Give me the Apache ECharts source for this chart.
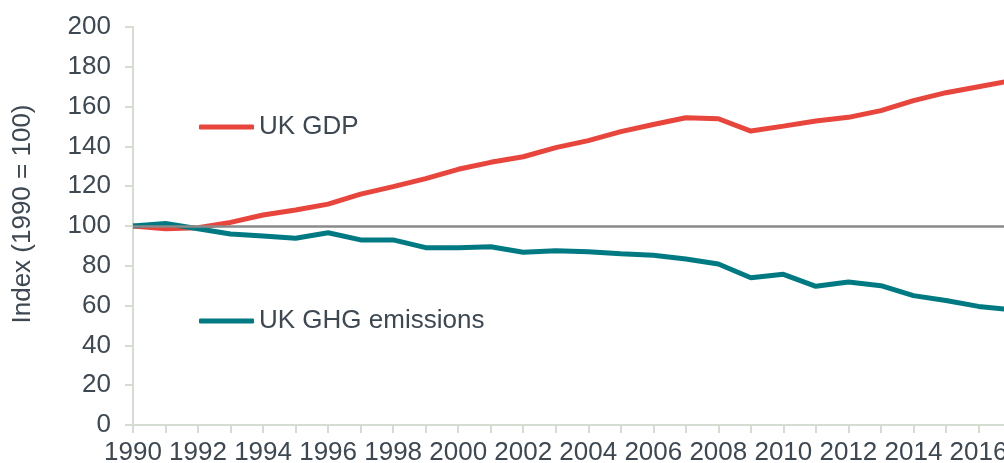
<!DOCTYPE html>
<html>
<head>
<meta charset="utf-8">
<title>UK GDP and GHG emissions</title>
<script src="https://cdn.jsdelivr.net/npm/echarts@6/dist/echarts.min.js"></script>
<style>
  html, body { margin: 0; padding: 0; background: #ffffff; }
  #chart { width: 1004px; height: 463px; }
</style>
</head>
<body>
<div id="chart"></div>
<script>
// Index values, 1990 = 100
const years = ['1990','1991','1992','1993','1994','1995','1996','1997','1998','1999',
               '2000','2001','2002','2003','2004','2005','2006','2007','2008','2009',
               '2010','2011','2012','2013','2014','2015','2016','2017'];
const gdp = [100, 98.6, 99.1, 101.8, 105.5, 108, 111, 116, 119.8, 123.8,
             128.5, 132, 134.8, 139.4, 142.9, 147.4, 151, 154.4, 153.9, 147.7,
             150.2, 152.8, 154.6, 158, 163, 167, 170, 173];
const ghg = [100, 101.3, 98.6, 96, 95, 93.8, 96.6, 93, 93, 89.1,
             89.1, 89.6, 86.8, 87.6, 87.1, 86, 85.3, 83.4, 80.9, 74,
             75.7, 69.7, 71.9, 70, 65, 62.6, 59.6, 58];
const yTicks = { min: 0, max: 200, interval: 20 };
const baseYearIndex = 100;

const textColor = '#3d4852';
const axisColor = '#d5ddd2';
const fontFamily = '"Liberation Sans", Arial, sans-serif';
const fontSize = 26;

const chart = echarts.init(document.getElementById('chart'), null, { renderer: 'canvas' });

const legendText = { color: textColor, fontSize: fontSize, fontFamily: fontFamily, lineHeight: 30 };

chart.setOption({
  backgroundColor: '#ffffff',
  animation: false,
  grid: {
    left: 133, right: -7, top: 27, bottom: 38,
    containLabel: false, outerBoundsMode: 'none'
  },
  legend: [
    {
      data: ['UK GDP'], left: 199, top: 112, orient: 'vertical', padding: 0,
      icon: 'roundRect', itemWidth: 55, itemHeight: 5,
      textStyle: legendText, selectedMode: false
    },
    {
      data: ['UK GHG emissions'], left: 199, top: 306, orient: 'vertical', padding: 0,
      icon: 'roundRect', itemWidth: 55, itemHeight: 5,
      textStyle: legendText, selectedMode: false
    }
  ],
  xAxis: {
    type: 'category',
    data: years,
    boundaryGap: false,
    axisLine: { show: true, lineStyle: { color: axisColor, width: 2 } },
    axisTick: { show: true, interval: 0, length: 8, lineStyle: { color: axisColor, width: 2 } },
    axisLabel: {
      interval: 1, margin: 15, color: textColor, fontSize: fontSize, fontFamily: fontFamily,
      hideOverlap: false
    },
    splitLine: { show: false }
  },
  yAxis: {
    type: 'value',
    min: yTicks.min, max: yTicks.max, interval: yTicks.interval,
    name: 'Index (1990 = 100)',
    nameLocation: 'middle',
    nameGap: 97,
    nameRotate: 90,
    nameTextStyle: {
      color: textColor, fontSize: fontSize, fontFamily: fontFamily,
      padding: [0, 0, 0, 24]
    },
    axisLine: { show: true, lineStyle: { color: axisColor, width: 2 } },
    axisTick: { show: true, length: 8, lineStyle: { color: axisColor, width: 2 } },
    axisLabel: { margin: 22, color: textColor, fontSize: fontSize, fontFamily: fontFamily },
    splitLine: { show: false }
  },
  series: [
    {
      name: 'UK GDP', type: 'line', data: gdp,
      symbol: 'none', smooth: false,
      itemStyle: { color: '#e8453c' },
      lineStyle: { color: '#e8453c', width: 5 },
      z: 2
    },
    {
      name: 'UK GHG emissions', type: 'line', data: ghg,
      symbol: 'none', smooth: false,
      itemStyle: { color: '#007a82' },
      lineStyle: { color: '#007a82', width: 5 },
      z: 2,
      markLine: {
        silent: true, symbol: 'none', z: 10,
        label: { show: false },
        lineStyle: { color: '#8a8a8a', width: 2.5, type: 'solid' },
        emphasis: { disabled: true },
        data: [{ yAxis: baseYearIndex }]
      }
    }
  ]
});
</script>
</body>
</html>
